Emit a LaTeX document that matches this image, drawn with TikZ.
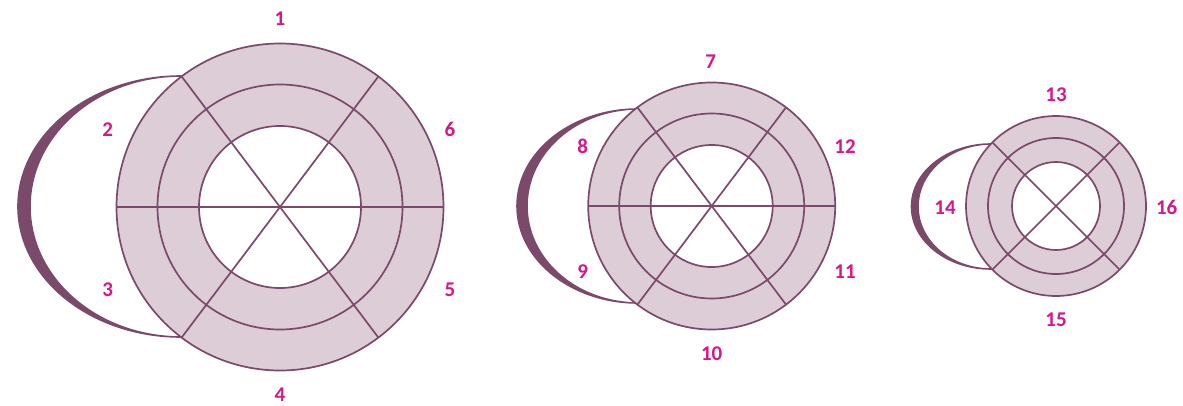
\documentclass[tikz,border=0pt]{standalone}
\usepackage{fontspec}
\setmainfont{Carlito}
\definecolor{linec}{HTML}{7B4A6B}
\definecolor{ringc}{HTML}{DCCDD6}
\definecolor{labc}{HTML}{D6168C}
\tikzset{
  seg/.style={draw=linec, line width=1.7pt},
  ringfill/.style={fill=ringc, even odd rule},
  rv/.style={fill=linec, draw=linec, line width=1.6pt, line join=round},
  lab/.style={text=labc, font=\fontsize{21}{25}\selectfont\bfseries, inner sep=0pt}
}
\newcommand{\bullseye}[6]{%
  \fill[ringfill] (#1,#2) circle (#3) (#1,#2) circle (#5);
  \foreach \a in {#6} {
    \draw[seg] ($(#1,#2)+(\a:#3)$) -- ($(#1,#2)+(\a+180:#3)$);
  }
  \draw[seg] (#1,#2) circle (#3);
  \draw[seg] (#1,#2) circle (#4);
  \draw[seg] (#1,#2) circle (#5);
}
\newcommand{\rvshape}[5]{%
  \filldraw[rv] (#1,#2+#3) arc[start angle=90,end angle=270,x radius=#4,y radius=#3]
     arc[start angle=270,end angle=90,x radius=#5,y radius=#3] -- cycle;
}
\usetikzlibrary{calc}
\begin{document}
\begin{tikzpicture}[x=1pt,y=1pt]
\useasboundingbox (0,0) rectangle (1183,405);
% right-ventricle crescents
\rvshape{181}{198.5}{130.5}{163}{151}
\rvshape{638}{199}{97}{121}{111}
\rvshape{991}{198.5}{62.5}{79.5}{73}
% bullseyes
\bullseye{280}{198}{163.5}{122.5}{81}{0,53,127}
\bullseye{711.7}{199}{123.5}{92.5}{61}{0,53,127}
\bullseye{1056}{199}{90}{68}{44}{45,135}
% labels
\node[lab] (l1) at (280,386) {1};
\node[lab] (l2) at (107.7,275.7) {2};
\node[lab] (l3) at (107.7,115.7) {3};
\node[lab] (l4) at (280,10) {4};
\node[lab] (l5) at (450,115.7) {5};
\node[lab] (l6) at (450,275.7) {6};
\node[lab] (l7) at (710.7,343.3) {7};
\node[lab] (l8) at (582.7,258.3) {8};
\node[lab] (l9) at (582.7,133.3) {9};
\node[lab] (l10) at (711.7,51.7) {10};
\node[lab] (l11) at (845,133.3) {11};
\node[lab] (l12) at (845,258.3) {12};
\node[lab] (l13) at (1056,310) {13};
\node[lab] (l14) at (945,197.7) {14};
\node[lab] (l15) at (1056,85) {15};
\node[lab] (l16) at (1166.7,197.7) {16};
\end{tikzpicture}
\end{document}
